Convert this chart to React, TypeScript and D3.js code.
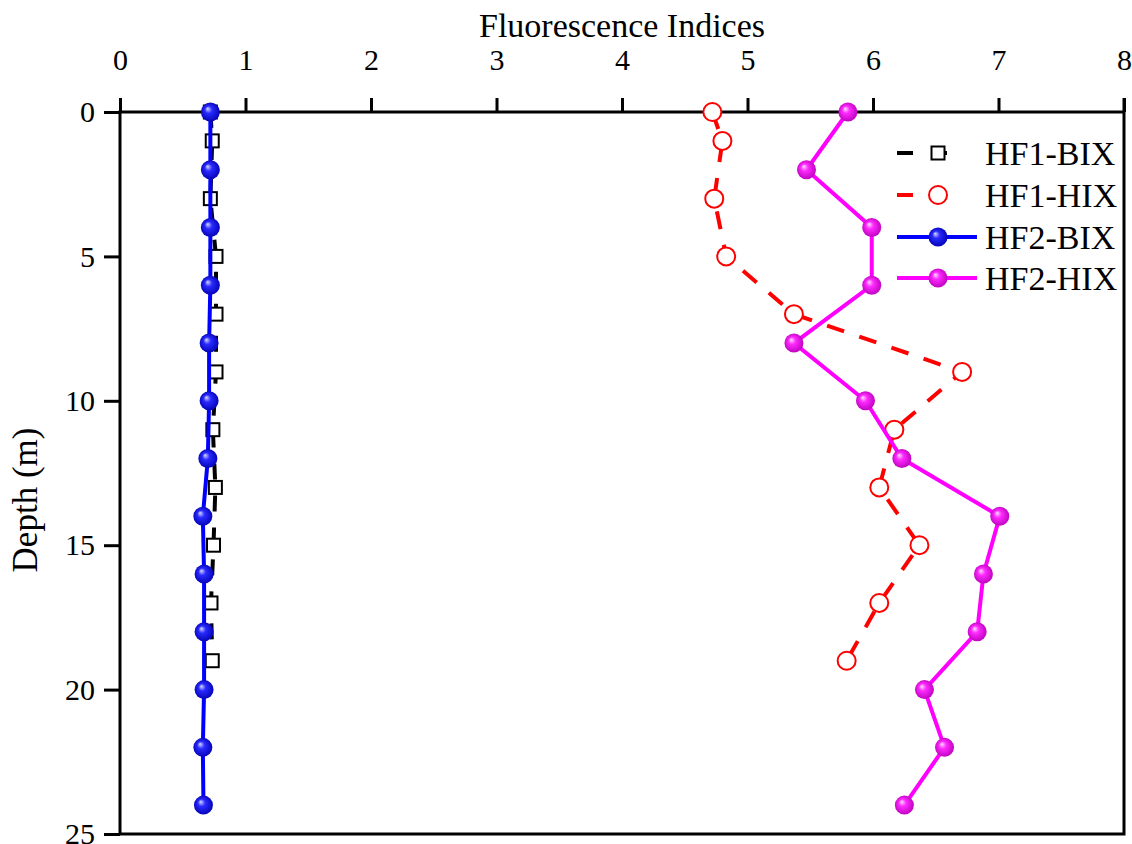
import { useEffect, useRef } from 'react';
import * as d3 from 'd3';

const hf1Depths = [0, 1, 3, 5, 7, 9, 11, 13, 15, 17, 19];
const hf1Bix = [0.72, 0.735, 0.72, 0.765, 0.765, 0.765, 0.74, 0.76, 0.745, 0.725, 0.735];
const hf1Hix = [4.72, 4.8, 4.735, 4.83, 5.37, 6.71, 6.17, 6.05, 6.37, 6.05, 5.79];

const hf2Depths = [0, 2, 4, 6, 8, 10, 12, 14, 16, 18, 20, 22, 24];
const hf2Bix = [0.72, 0.72, 0.72, 0.72, 0.71, 0.71, 0.7, 0.66, 0.67, 0.67, 0.67, 0.66, 0.665];
const hf2Hix = [5.8, 5.47, 5.99, 5.99, 5.37, 5.94, 6.23, 7.01, 6.88, 6.83, 6.41, 6.57, 6.25];

const xTicks = [0, 1, 2, 3, 4, 5, 6, 7, 8];
const yTicks = [0, 5, 10, 15, 20, 25];

const legendNames = ['HF1-BIX', 'HF1-HIX', 'HF2-BIX', 'HF2-HIX'];

const FONT = '"Liberation Serif", "DejaVu Serif", serif';

export default function App() {
  const svgRef = useRef<SVGSVGElement>(null);
  const width = 1132;
  const height = 844;

  useEffect(() => {
    if (!svgRef.current) return;
    const svg = d3.select(svgRef.current);
    svg.selectAll('*').remove();

    const x = d3.scaleLinear().domain([0, 8]).range([120, 1124]);
    const y = d3.scaleLinear().domain([0, 25]).range([112, 834]);

    // sphere gradients
    const defs = svg.append('defs');
    const spheres = [
      { id: 'ballBlue', light: '#d8dcff', mid: '#2a2aff', dark: '#0000b0' },
      { id: 'ballMag', light: '#ffe0ff', mid: '#ff2aff', dark: '#b800b8' },
    ];
    spheres.forEach((s) => {
      const g = defs
        .append('radialGradient')
        .attr('id', s.id)
        .attr('cx', '50%')
        .attr('cy', '50%')
        .attr('r', '55%')
        .attr('fx', '35%')
        .attr('fy', '32%');
      g.append('stop').attr('offset', '0%').attr('stop-color', s.light);
      g.append('stop').attr('offset', '35%').attr('stop-color', s.mid);
      g.append('stop').attr('offset', '100%').attr('stop-color', s.dark);
    });

    svg.append('rect').attr('width', width).attr('height', height).attr('fill', '#fff');

    // frame
    svg
      .append('rect')
      .attr('x', x(0))
      .attr('y', y(0))
      .attr('width', x(8) - x(0))
      .attr('height', y(25) - y(0))
      .attr('fill', 'none')
      .attr('stroke', '#000')
      .attr('stroke-width', 3);

    // top axis
    const top = svg
      .append('g')
      .attr('transform', `translate(0,${y(0)})`)
      .call(d3.axisTop(x).tickValues(xTicks).tickSize(14).tickPadding(28).tickFormat(d3.format('d')));
    top.select('.domain').remove();
    top.selectAll('line').attr('stroke', '#000').attr('stroke-width', 3);
    top
      .selectAll('text')
      .attr('font-family', FONT)
      .attr('font-size', 30)
      .attr('fill', '#000');

    // left axis
    const left = svg
      .append('g')
      .attr('transform', `translate(${x(0)},0)`)
      .call(d3.axisLeft(y).tickValues(yTicks).tickSize(16).tickPadding(9).tickFormat(d3.format('d')));
    left.select('.domain').remove();
    left.selectAll('line').attr('stroke', '#000').attr('stroke-width', 3);
    left
      .selectAll('text')
      .attr('font-family', FONT)
      .attr('font-size', 30)
      .attr('fill', '#000');

    // tick on right end of top axis
    svg
      .append('line')
      .attr('x1', x(8))
      .attr('x2', x(8))
      .attr('y1', y(0) - 14)
      .attr('y2', y(0))
      .attr('stroke', '#000')
      .attr('stroke-width', 3);

    // titles
    svg
      .append('text')
      .attr('x', (x(0) + x(8)) / 2)
      .attr('y', 37)
      .attr('text-anchor', 'middle')
      .attr('font-family', FONT)
      .attr('font-size', 34)
      .text('Fluorescence Indices');

    svg
      .append('text')
      .attr('transform', `translate(37,500) rotate(-90)`)
      .attr('text-anchor', 'middle')
      .attr('font-family', FONT)
      .attr('font-size', 35)
      .text('Depth (m)');

    const line = d3
      .line<[number, number]>()
      .x((d) => x(d[0]))
      .y((d) => y(d[1]));

    const hf1BixPts: [number, number][] = hf1Depths.map((d, i) => [hf1Bix[i], d]);
    const hf1HixPts: [number, number][] = hf1Depths.map((d, i) => [hf1Hix[i], d]);
    const hf2BixPts: [number, number][] = hf2Depths.map((d, i) => [hf2Bix[i], d]);
    const hf2HixPts: [number, number][] = hf2Depths.map((d, i) => [hf2Hix[i], d]);

    // HF1-BIX
    svg
      .append('path')
      .attr('d', line(hf1BixPts))
      .attr('fill', 'none')
      .attr('stroke', '#000')
      .attr('stroke-width', 4)
      .attr('stroke-dasharray', '16,16');
    svg
      .selectAll('.sq')
      .data(hf1BixPts)
      .join('rect')
      .attr('class', 'sq')
      .attr('x', (d) => x(d[0]) - 6.5)
      .attr('y', (d) => y(d[1]) - 6.5)
      .attr('width', 13)
      .attr('height', 13)
      .attr('fill', '#fff')
      .attr('stroke', '#000')
      .attr('stroke-width', 2);

    // HF1-HIX
    svg
      .append('path')
      .attr('d', line(hf1HixPts))
      .attr('fill', 'none')
      .attr('stroke', '#ff0000')
      .attr('stroke-width', 4)
      .attr('stroke-dasharray', '18,16');
    svg
      .selectAll('.circ')
      .data(hf1HixPts)
      .join('circle')
      .attr('class', 'circ')
      .attr('cx', (d) => x(d[0]))
      .attr('cy', (d) => y(d[1]))
      .attr('r', 9)
      .attr('fill', '#fff')
      .attr('stroke', '#ff0000')
      .attr('stroke-width', 2);

    // HF2-BIX
    svg
      .append('path')
      .attr('d', line(hf2BixPts))
      .attr('fill', 'none')
      .attr('stroke', '#0000ff')
      .attr('stroke-width', 4);
    svg
      .selectAll('.bb')
      .data(hf2BixPts)
      .join('circle')
      .attr('class', 'bb')
      .attr('cx', (d) => x(d[0]))
      .attr('cy', (d) => y(d[1]))
      .attr('r', 9.5)
      .attr('fill', 'url(#ballBlue)');

    // HF2-HIX
    svg
      .append('path')
      .attr('d', line(hf2HixPts))
      .attr('fill', 'none')
      .attr('stroke', '#ff00ff')
      .attr('stroke-width', 4);
    svg
      .selectAll('.mb')
      .data(hf2HixPts)
      .join('circle')
      .attr('class', 'mb')
      .attr('cx', (d) => x(d[0]))
      .attr('cy', (d) => y(d[1]))
      .attr('r', 9.5)
      .attr('fill', 'url(#ballMag)');

    // legend
    const rowY = [153, 195, 237, 278];
    const lg = svg.append('g');
    legendNames.forEach((name, i) => {
      const cy = rowY[i];
      if (i < 2) {
        lg.append('line')
          .attr('x1', 897).attr('x2', 913).attr('y1', cy).attr('y2', cy)
          .attr('stroke', i === 0 ? '#000' : '#ff0000').attr('stroke-width', 4);
        if (i === 0) {
          lg.append('line')
            .attr('x1', 938).attr('x2', 947).attr('y1', cy).attr('y2', cy)
            .attr('stroke', '#000').attr('stroke-width', 4);
          lg.append('rect')
            .attr('x', 931.5).attr('y', cy - 6.5).attr('width', 13).attr('height', 13)
            .attr('fill', '#fff').attr('stroke', '#000').attr('stroke-width', 2);
        } else {
          lg.append('circle')
            .attr('cx', 938).attr('cy', cy).attr('r', 9)
            .attr('fill', '#fff').attr('stroke', '#ff0000').attr('stroke-width', 2);
        }
      } else {
        const col = i === 2 ? '#0000ff' : '#ff00ff';
        lg.append('line')
          .attr('x1', 897).attr('x2', 977).attr('y1', cy).attr('y2', cy)
          .attr('stroke', col).attr('stroke-width', 4);
        lg.append('circle')
          .attr('cx', 938).attr('cy', cy).attr('r', 9.5)
          .attr('fill', i === 2 ? 'url(#ballBlue)' : 'url(#ballMag)');
      }
      lg.append('text')
        .attr('x', 985)
        .attr('y', cy)
        .attr('dy', '0.35em')
        .attr('font-family', FONT)
        .attr('font-size', 34)
        .attr('fill', '#000')
        .text(name);
    });
  }, []);

  return (
    <svg
      ref={svgRef}
      width={width}
      height={height}
      style={{ position: 'absolute', left: 0, top: 0, display: 'block' }}
    />
  );
}
